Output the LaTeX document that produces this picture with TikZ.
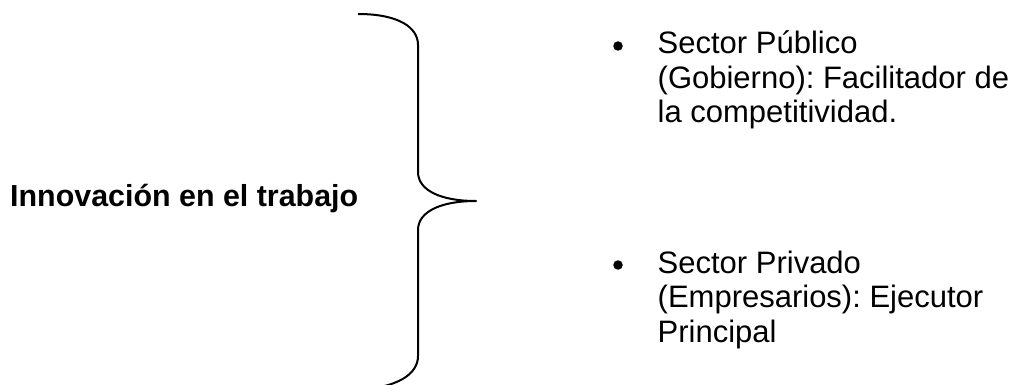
\documentclass[tikz,border=0pt]{standalone}
\usepackage{fontspec}
\setmainfont{Liberation Sans}
\frenchspacing
\begin{document}
\begin{tikzpicture}[x=1pt,y=-1pt,
  line/.style={inner sep=0pt, anchor=base west, font=\fontsize{31}{34.5}\selectfont},
  title/.style={inner sep=0pt, anchor=base west, font=\fontsize{30.4}{34.5}\selectfont\bfseries},
  dot/.style={circle, fill=black, inner sep=0pt, minimum size=9.5pt},
  bracepath/.style={line width=2pt, line join=round}]
\useasboundingbox (0,0) rectangle (1013,385);

% left heading
\node[title] (head) at (10,207) {Innovación en el trabajo};

% curly brace pointing right
\coordinate (tip) at (476,201);
\draw[bracepath] (358,14) .. controls (398,14) and (418,27) .. (418,45)
  -- (418,172) .. controls (418,190) and (440,201) .. (tip)
  .. controls (440,201) and (418,212) .. (418,230)
  -- (418,356) .. controls (418,374) and (398,388) .. (355,390);

% first bullet
\node[dot] (b1) at (618,46) {};
\node[line] (p1) at (657.5,54) {Sector Público};
\node[line] (p2) at (657.5,88.5) {(Gobierno): Facilitador de};
\node[line] (p3) at (657.5,123) {la competitividad.};

% second bullet
\node[dot] (b2) at (618,265) {};
\node[line] (q1) at (657.5,273) {Sector Privado};
\node[line] (q2) at (657.5,307.5) {(Empresarios): Ejecutor};
\node[line] (q3) at (657.5,342) {Principal};
\end{tikzpicture}
\end{document}
